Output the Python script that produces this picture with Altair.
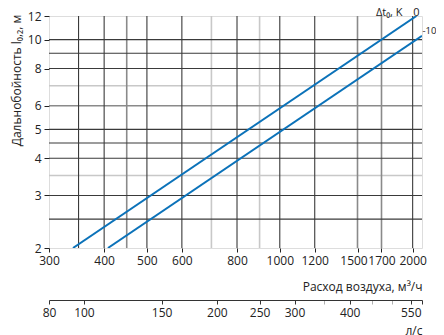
import altair as alt
import pandas as pd

# ---- data ----
flow_domain = [300, 2100]          # м³/ч
range_domain = [2, 12]             # м

flow_ticks = [300, 400, 500, 600, 800, 1000, 1200, 1500, 1700, 2000]
range_ticks = [2, 3, 4, 5, 6, 8, 10, 12]
ls_ticks = [83.34, 100, 150, 200, 250, 300, 350, 400, 450, 500, 550, 583.3]
ls_minor = [350, 450, 500]

grid_x_dark = [350, 400, 500, 600, 800, 1000, 1200, 2000]
grid_x_mid = [450, 1500, 1700]
grid_x_light = [700, 900]
grid_y_dark = [2.5, 3, 4, 4.5, 5, 8, 9, 10]
grid_y_mid = [6]
grid_y_light = [3.5, 7]

series_names = ["0", "-10"]
series_flow = [[340, 2040], [408, 2100]]
series_range = [[2, 12], [2, 10.3]]

# ---- tables ----
rows = []
for name, fl, rg in zip(series_names, series_flow, series_range):
    for f, r in zip(fl, rg):
        rows.append({"series": name, "flow": f, "range": r})
lines_df = pd.DataFrame(rows)
ends_df = lines_df.groupby("series", sort=False).tail(1).reset_index(drop=True)
end0 = ends_df[ends_df.series == "0"]
end10 = ends_df[ends_df.series == "-10"]

BLUE = "#0b72b9"
FONT = "Open Sans"
INK = "#222"

xscale = alt.Scale(type="log", domain=flow_domain, nice=False)
yscale = alt.Scale(type="log", domain=range_domain, nice=False)


def vgrid(vals, color, width):
    return alt.Chart(pd.DataFrame({"flow": vals})).mark_rule(
        color=color, strokeWidth=width).encode(
        x=alt.X("flow:Q", scale=xscale))


def hgrid(vals, color, width):
    return alt.Chart(pd.DataFrame({"range": vals})).mark_rule(
        color=color, strokeWidth=width).encode(
        y=alt.Y("range:Q", scale=yscale))


grids = [
    vgrid(grid_x_light, "#c8c8c8", 1.6),
    hgrid(grid_y_light, "#c8c8c8", 1.6),
    vgrid(grid_x_mid, "#8a8a8a", 1.6),
    hgrid(grid_y_mid, "#8a8a8a", 1.6),
    vgrid(grid_x_dark, "#3a3a3a", 1.1),
    hgrid(grid_y_dark, "#3a3a3a", 1.1),
]

lines = alt.Chart(lines_df).mark_line(color=BLUE, strokeWidth=2, clip=True).encode(
    x=alt.X("flow:Q", scale=xscale,
            axis=alt.Axis(values=flow_ticks, labelExpr="format(datum.value, 'd')",
                          labelOverlap=False, labelFlush=False, grid=False, domain=False,
                          tickSize=4, tickColor=INK, labelPadding=3,
                          labelFontSize=12, labelColor=INK, labelFont=FONT,
                          labelOffset={"condition": {"test": "datum.value == 1500", "value": -4}, "value": 0},
                          title="Расход воздуха, м³/ч", titleFont=FONT,
                          titleFontSize=12, titleFontWeight="normal", titleColor=INK,
                          titleX=373, titleY=38, titleAlign="right",
                          titleBaseline="middle")),
    y=alt.Y("range:Q", scale=yscale,
            axis=alt.Axis(values=range_ticks, labelExpr="format(datum.value, 'd')",
                          labelFlush=False, labelOverlap=False,
                          grid=False, domain=False, tickSize=5, tickColor=INK,
                          labelPadding=3, labelFontSize=12, labelColor=INK,
                          labelFont=FONT,
                          title="Дальнобойность l₀,₂, м", titleFont=FONT,
                          titleFontSize=12, titleFontWeight="normal", titleColor=INK,
                          titleX=-26, titleY=64, titleBaseline="bottom")),
    detail="series:N",
)

lab0 = alt.Chart(end0).mark_text(dy=-0.5, align="center", baseline="alphabetic",
                                 fontSize=11, font=FONT, color=INK).encode(
    x=alt.X("flow:Q", scale=xscale), y=alt.Y("range:Q", scale=yscale), text="series:N")
lab10 = alt.Chart(end10).mark_text(dx=0.5, dy=-5, align="left", baseline="middle",
                                   fontSize=9.5, font=FONT, color=INK).encode(
    x=alt.X("flow:Q", scale=xscale), y=alt.Y("range:Q", scale=yscale), text="series:N")
labdt = alt.Chart(end0).mark_text(dx=-14, dy=-0.5, align="right", baseline="alphabetic",
                                  fontSize=11, font=FONT, color=INK,
                                  text="Δt₀, K").encode(
    x=alt.X("flow:Q", scale=xscale), y=alt.Y("range:Q", scale=yscale))

main = alt.layer(*grids, lines, lab0, lab10, labdt)

minor_list = ",".join(str(v) for v in ls_minor)
second = alt.Chart(pd.DataFrame({"ls": ls_ticks})).mark_point(opacity=0).encode(
    x=alt.X("ls:Q",
            scale=alt.Scale(type="log", domain=[d / 3.6 for d in flow_domain], nice=False),
            axis=alt.Axis(orient="bottom", offset=52, values=ls_ticks,
                          labelExpr=("datum.value < 90 ? '80' : (indexof([" + minor_list +
                                     "], datum.value) >= 0 || datum.value > 560) ? '' : "
                                     "format(datum.value, 'd')"),
                          labelOverlap=False, labelFlush=False, grid=False, domain=True,
                          domainColor="#333", domainWidth=1,
                          tickSize=4,
                          tickColor={"condition": {"test": "indexof([" + minor_list + "], datum.value) >= 0",
                                                   "value": "#b0b0b0"}, "value": "#333"},
                          labelPadding=3, labelFontSize=12, labelColor=INK,
                          labelFont=FONT,
                          title="л/с", titleFont=FONT, titleFontSize=12,
                          titleFontWeight="normal", titleColor=INK,
                          titleX=373, titleY=30, titleAlign="right",
                          titleBaseline="middle")),
)

chart = alt.layer(main, second).resolve_scale(x="independent").properties(
    width=373, height=232,
    padding={"left": 41, "top": 8, "right": 14, "bottom": 90},
    autosize=alt.AutoSizeParams(type="none"),
).configure_view(stroke="#111", strokeWidth=2).configure(font=FONT)

chart.save("out.html", embed_options={"renderer": "svg", "actions": False})
